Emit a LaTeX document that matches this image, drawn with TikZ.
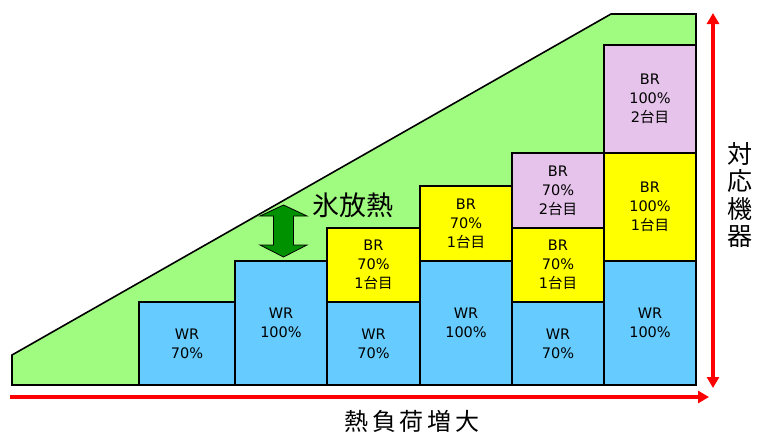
\documentclass[tikz,border=0pt]{standalone}
\usepackage{fontspec}
\setmainfont{DejaVu Sans}
\newfontfamily\cjk{Noto Sans CJK JP}
\newfontfamily\cjkwide{Noto Sans CJK JP}[LetterSpace=16]
\usetikzlibrary{arrows.meta}
\definecolor{lgreen}{RGB}{160,252,128}
\definecolor{wrblue}{RGB}{102,204,255}
\definecolor{bryel}{RGB}{255,255,0}
\definecolor{brpink}{RGB}{230,195,235}
\definecolor{dgreen}{RGB}{0,145,0}
\tikzset{
  unitbox/.style={draw=black, line width=1.6pt, inner sep=0pt, align=center,
    font=\fontsize{14.5}{19}\selectfont},
  wrbox/.style={unitbox, fill=wrblue},
  brbox/.style={unitbox, fill=bryel},
  pkbox/.style={unitbox, fill=brpink},
  axisarrow/.style={draw=red, line width=3.2pt, {Triangle[length=11pt,width=12pt]}-{Triangle[length=11pt,width=12pt]}},
  axisarrowone/.style={draw=red, line width=3.2pt, -{Triangle[length=11pt,width=12pt]}},
}
\begin{document}
\begin{tikzpicture}[x=1pt,y=-1pt]
\useasboundingbox (0,0) rectangle (768,434);
% green load area
\draw[fill=lgreen, line width=1.6pt, line join=miter] (12,385) -- (12,355) -- (611,14) -- (696,14) -- (696,385) -- cycle;
% column 1
\node[wrbox, minimum width=96pt, minimum height=83pt] (c1wr) at (187,343.5) {WR\\70\%};
% column 2
\node[wrbox, minimum width=92pt, minimum height=124pt] (c2wr) at (281,323) {WR\\100\%};
% column 3
\node[wrbox, minimum width=93pt, minimum height=83pt] (c3wr) at (373.5,343.5) {WR\\70\%};
\node[brbox, minimum width=93pt, minimum height=74pt] (c3br) at (373.5,265) {BR\\70\%\\1{\cjk 台目}};
% column 4
\node[wrbox, minimum width=92pt, minimum height=124pt] (c4wr) at (466,323) {WR\\100\%};
\node[brbox, minimum width=92pt, minimum height=75pt] (c4br) at (466,223.5) {BR\\70\%\\1{\cjk 台目}};
% column 5
\node[wrbox, minimum width=92pt, minimum height=83pt] (c5wr) at (558,343.5) {WR\\70\%};
\node[brbox, minimum width=92pt, minimum height=74pt] (c5br) at (558,265) {BR\\70\%\\1{\cjk 台目}};
\node[pkbox, minimum width=92pt, minimum height=75pt] (c5pk) at (558,190.5) {BR\\70\%\\2{\cjk 台目}};
% column 6
\node[wrbox, minimum width=92pt, minimum height=124pt] (c6wr) at (650,323) {WR\\100\%};
\node[brbox, minimum width=92pt, minimum height=108pt] (c6br) at (650,207) {BR\\100\%\\1{\cjk 台目}};
\node[pkbox, minimum width=92pt, minimum height=108pt] (c6pk) at (650,99) {BR\\100\%\\2{\cjk 台目}};
% ice heat release arrow
\draw[fill=dgreen, draw=black, line width=0.8pt, line join=miter]
  (283.5,205) -- (307,216) -- (293.5,216) -- (293.5,245) -- (307,245) -- (283.5,257)
  -- (260,245) -- (273.5,245) -- (273.5,216) -- (260,216) -- cycle;
\node[font=\cjk\fontsize{27}{27}\selectfont, inner sep=0pt] (ice) at (353,205) {氷放熱};
% axes
\coordinate (hx0) at (10,397);
\coordinate (hx1) at (709,397);
\draw[axisarrowone] (hx0) -- (hx1);
\coordinate (vy0) at (713,13);
\coordinate (vy1) at (713,388);
\draw[axisarrow] (vy0) -- (vy1);
\node[font=\cjkwide\fontsize{24}{24}\selectfont, inner sep=0pt] (load) at (412,421) {熱負荷増大};
\node[font=\cjk\fontsize{25}{27.5}\selectfont, inner sep=0pt, align=center] (equip) at (740,195) {対\\応\\機\\器};
\end{tikzpicture}
\end{document}
